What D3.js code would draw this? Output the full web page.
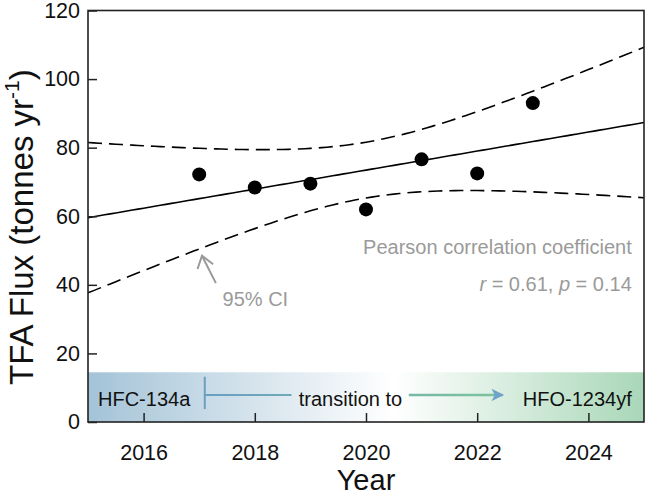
<!DOCTYPE html>
<html>
<head>
<meta charset="utf-8">
<script src="https://cdn.jsdelivr.net/npm/d3@7"></script>
<style>
  body { margin: 0; background: #fff; }
  text { font-family: "Liberation Sans", Arial, sans-serif; }
</style>
</head>
<body>
<svg id="chart" width="646" height="495"></svg>
<script>
const years = [2017, 2018, 2019, 2020, 2021, 2022, 2023];
const flux = [72.2, 68.4, 69.5, 62.0, 76.6, 72.5, 93.0];
const xTicks = [2016, 2018, 2020, 2022, 2024];
const yTicks = [0, 20, 40, 60, 80, 100, 120];
const tCrit = 2.5706; // t(0.975, df = 5)

const svg = d3.select("#chart");
const margin = { top: 10.5, right: 2, bottom: 73, left: 88 };
const width = +svg.attr("width") - margin.left - margin.right;
const height = +svg.attr("height") - margin.top - margin.bottom;
const g = svg.append("g").attr("transform", `translate(${margin.left},${margin.top})`);

const x = d3.scaleLinear().domain([2015, 2025]).range([0, width]);
const y = d3.scaleLinear().domain([0, 120]).range([height, 0]);

// linear fit + 95% confidence band
const n = years.length;
const mx = d3.mean(years), my = d3.mean(flux);
const sxx = d3.sum(years, d => (d - mx) ** 2);
const slope = d3.sum(years, (d, i) => (d - mx) * (flux[i] - my)) / sxx;
const icpt = my - slope * mx;
const sse = d3.sum(years, (d, i) => (flux[i] - (icpt + slope * d)) ** 2);
const s = Math.sqrt(sse / (n - 2));
const grid = d3.range(2015, 2025.001, 0.1);
const band = grid.map(t => {
  const fit = icpt + slope * t;
  const hw = tCrit * s * Math.sqrt(1 / n + (t - mx) ** 2 / sxx);
  return { t, fit, lo: fit - hw, hi: fit + hw };
});

// gradient strip
const defs = svg.append("defs");
const grad = defs.append("linearGradient").attr("id", "strip")
  .attr("x1", "0%").attr("x2", "100%");
grad.append("stop").attr("offset", "0%").attr("stop-color", "#a4c3d7");
grad.append("stop").attr("offset", "55%").attr("stop-color", "#ffffff");
grad.append("stop").attr("offset", "100%").attr("stop-color", "#a9d7b8");

const agrad = defs.append("linearGradient").attr("id", "arrowGrad")
  .attr("gradientUnits", "userSpaceOnUse")
  .attr("x1", x(2017.1)).attr("x2", x(2022.4));
agrad.append("stop").attr("offset", "0%").attr("stop-color", "#6a9fc2");
agrad.append("stop").attr("offset", "100%").attr("stop-color", "#7cc39c");

defs.append("marker").attr("id", "head")
  .attr("viewBox", "0 0 10 10").attr("refX", 9).attr("refY", 5)
  .attr("markerWidth", 6).attr("markerHeight", 5).attr("orient", "auto")
  .attr("markerUnits", "strokeWidth")
  .append("path").attr("d", "M0,0L10,5L0,10L2.5,5Z").attr("fill", "#6fa3c9");

g.append("rect")
  .attr("x", x(2015)).attr("width", x(2025) - x(2015))
  .attr("y", y(14.5)).attr("height", y(0) - y(14.5))
  .attr("fill", "url(#strip)");

// transition arrow
g.append("line")
  .attr("x1", x(2017.1)).attr("x2", x(2017.1))
  .attr("y1", y(13.2)).attr("y2", y(3.8))
  .attr("stroke", "#6a9fc2").attr("stroke-width", 2);
g.append("line")
  .attr("x1", x(2017.1)).attr("x2", x(2018.66))
  .attr("y1", y(7.9)).attr("y2", y(7.9))
  .attr("stroke", "url(#arrowGrad)").attr("stroke-width", 2);
g.append("line")
  .attr("x1", x(2020.77)).attr("x2", x(2022.46))
  .attr("y1", y(7.9)).attr("y2", y(7.9))
  .attr("stroke", "url(#arrowGrad)").attr("stroke-width", 2.5)
  .attr("marker-end", "url(#head)");

const stripText = [
  { label: "HFC-134a", t: 2015.18, anchor: "start" },
  { label: "transition to", t: 2019.72, anchor: "middle" },
  { label: "HFO-1234yf", t: 2024.78, anchor: "end" }
];
g.selectAll(".strip-label").data(stripText).join("text")
  .attr("class", "strip-label")
  .attr("x", d => x(d.t)).attr("y", y(4.8))
  .attr("text-anchor", d => d.anchor)
  .attr("font-size", 20).attr("fill", "#111")
  .text(d => d.label);

// CI and fit lines
const lineOf = key => d3.line().x(d => x(d.t)).y(d => y(d[key]));
g.append("path").attr("d", lineOf("fit")(band))
  .attr("fill", "none").attr("stroke", "#000").attr("stroke-width", 1.6);
["lo", "hi"].forEach(k => {
  g.append("path").attr("d", lineOf(k)(band))
    .attr("fill", "none").attr("stroke", "#000").attr("stroke-width", 1.6)
    .attr("stroke-dasharray", "14,7");
});

g.selectAll(".dot").data(years).join("circle")
  .attr("class", "dot")
  .attr("cx", d => x(d)).attr("cy", (d, i) => y(flux[i]))
  .attr("r", 7).attr("fill", "#000");

// annotations
const grey = "#9a9a9a";
g.append("line")
  .attr("x1", x(2017.3)).attr("y1", y(40.5))
  .attr("x2", x(2017.05)).attr("y2", y(48.5))
  .attr("stroke", grey).attr("stroke-width", 2);
g.append("path")
  .attr("d", `M${x(2016.97)},${y(44.6)}L${x(2017.05)},${y(48.5)}L${x(2017.25)},${y(46.0)}`)
  .attr("fill", "none").attr("stroke", grey).attr("stroke-width", 2);
g.append("text").attr("x", x(2017.42)).attr("y", y(33.8))
  .attr("font-size", 20).attr("fill", grey).text("95% CI");

g.append("text").attr("x", x(2024.78)).attr("y", y(49))
  .attr("text-anchor", "end").attr("font-size", 20).attr("fill", grey)
  .text("Pearson correlation coefficient");
const stat = g.append("text").attr("x", x(2024.78)).attr("y", y(38.3))
  .attr("text-anchor", "end").attr("font-size", 20).attr("fill", grey);
stat.append("tspan").attr("font-style", "italic").text("r");
stat.append("tspan").text(" = 0.61, ");
stat.append("tspan").attr("font-style", "italic").text("p");
stat.append("tspan").text(" = 0.14");

// axes
const xAxis = g.append("g").attr("transform", `translate(0,${height})`)
  .call(d3.axisBottom(x).tickValues(xTicks).tickFormat(d3.format("d"))
    .tickSizeInner(-9).tickSizeOuter(0).tickPadding(23));
const yAxis = g.append("g")
  .call(d3.axisLeft(y).tickValues(yTicks)
    .tickSizeInner(-9).tickSizeOuter(0).tickPadding(8));
[xAxis, yAxis].forEach(a => {
  a.select(".domain").remove();
  a.selectAll("line").attr("stroke", "#222").attr("stroke-width", 1.5);
  a.selectAll("text").attr("font-size", 21.5).attr("fill", "#111")
    .style("font-family", "'Liberation Sans', Arial, sans-serif");
});

g.append("rect").attr("width", width).attr("height", height)
  .attr("fill", "none").attr("stroke", "#222").attr("stroke-width", 1.6);

svg.append("text")
  .attr("x", margin.left + width / 2).attr("y", 490)
  .attr("text-anchor", "middle").attr("font-size", 29).attr("fill", "#111")
  .text("Year");

const yt = svg.append("text")
  .attr("transform", "translate(33,385) rotate(-90)")
  .attr("text-anchor", "start").attr("font-size", 33).attr("fill", "#111");
yt.append("tspan").text("TFA Flux (tonnes yr");
yt.append("tspan").attr("font-size", 21).attr("dy", -14).text("-1");
yt.append("tspan").attr("dy", 14).text(")");
</script>
</body>
</html>
